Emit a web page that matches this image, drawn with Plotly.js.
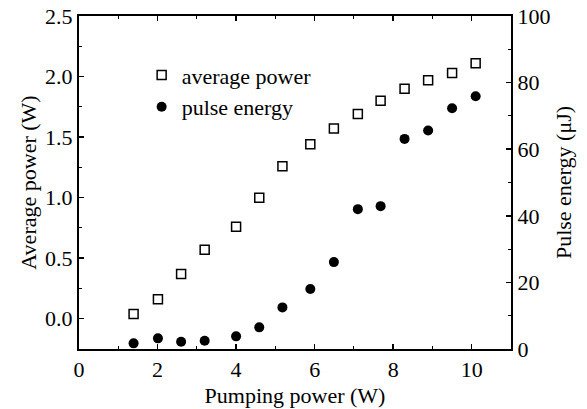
<!DOCTYPE html>
<html>
<head>
<meta charset="utf-8">
<script src="https://cdn.plot.ly/plotly-3.0.1.min.js"></script>
<style>html,body{margin:0;padding:0;background:#fff;}#chart{width:587px;height:409px;}</style>
</head>
<body>
<div id="chart"></div>
<script>
const pumpPower = [1.39, 2.01, 2.60, 3.20, 4.00, 4.59, 5.18, 5.89, 6.49, 7.10, 7.68, 8.29, 8.89, 9.50, 10.10];
const averagePower = [0.04, 0.16, 0.37, 0.57, 0.76, 1.00, 1.26, 1.44, 1.57, 1.69, 1.80, 1.90, 1.97, 2.03, 2.11];
const pulseEnergy = [1.7, 3.2, 2.2, 2.5, 3.8, 6.5, 12.5, 18.0, 26.1, 42.0, 42.9, 63.1, 65.6, 72.3, 75.9];
const seriesNames = ["average power", "pulse energy"];
const xTitle = "Pumping power (W)";
const yTitle = "Average power (W)";
const y2Title = "Pulse energy (\u03bcJ)";

const fontFam = 'Liberation Serif';
const traces = [
  {x: pumpPower, y: averagePower, name: seriesNames[0], type: 'scatter', mode: 'markers',
   marker: {symbol: 'square-open', size: 9, color: '#000', line: {width: 1.5, color: '#000'}}, yaxis: 'y'},
  {x: pumpPower, y: pulseEnergy, name: seriesNames[1], type: 'scatter', mode: 'markers',
   marker: {symbol: 'circle', size: 10, color: '#000'}, yaxis: 'y2'}
];
const axisCommon = {showline: true, linewidth: 2, linecolor: '#000', ticks: 'inside', ticklen: 5, tickwidth: 1.5,
  tickcolor: '#000', showgrid: false, zeroline: false, tickfont: {family: fontFam, size: 22, color: '#000'}};
const layout = {
  width: 587, height: 409,
  margin: {l: 79, r: 76, t: 16, b: 60},
  paper_bgcolor: '#fff', plot_bgcolor: '#fff',
  font: {family: fontFam, size: 22, color: '#000'},
  showlegend: true,
  legend: {x: 0.145, y: 0.885, xanchor: 'left', yanchor: 'top', bgcolor: 'rgba(0,0,0,0)',
    font: {family: fontFam, size: 22, color: '#000'}, tracegroupgap: 0, itemwidth: 30},
  xaxis: Object.assign({}, axisCommon, {range: [0, 11], tick0: 0, dtick: 2, mirror: 'ticks',
    minor: {dtick: 1, ticklen: 3, tickwidth: 1, ticks: 'inside', tickcolor: '#000'},
    title: {text: xTitle, font: {family: fontFam, size: 22}, standoff: 6}}),
  yaxis: Object.assign({}, axisCommon, {range: [-0.25, 2.5], tick0: 0, dtick: 0.5, tickformat: '.1f',
    minor: {dtick: 0.25, ticklen: 3, tickwidth: 1, ticks: 'inside', tickcolor: '#000'},
    title: {text: yTitle, font: {family: fontFam, size: 22}, standoff: 2}}),
  yaxis2: Object.assign({}, axisCommon, {range: [0, 100], tick0: 0, dtick: 20, overlaying: 'y', side: 'right',
    minor: {dtick: 10, ticklen: 3, tickwidth: 1, ticks: 'inside', tickcolor: '#000'},
    title: {text: y2Title, font: {family: fontFam, size: 22}, standoff: 6}})
};
Plotly.newPlot('chart', traces, layout, {displayModeBar: false, staticPlot: true});
</script>
</body>
</html>
